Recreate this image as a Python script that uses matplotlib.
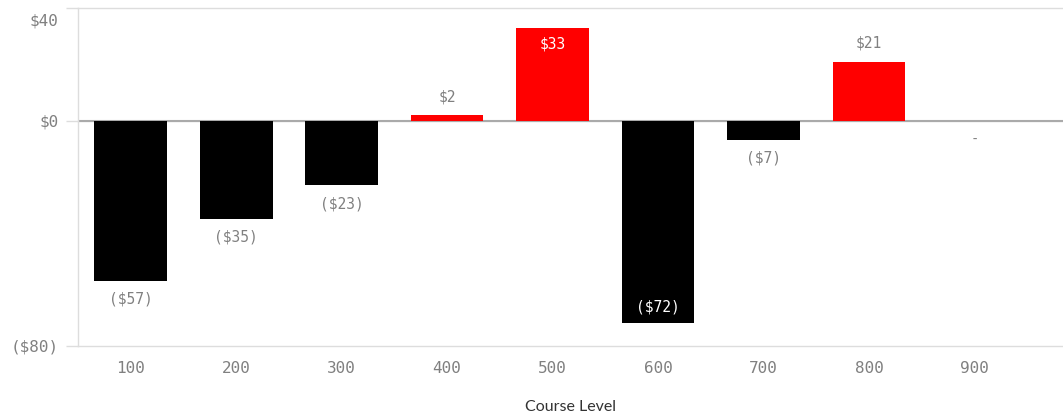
import numpy as np
import matplotlib.pyplot as plt
import matplotlib.transforms as mtransforms
from matplotlib.ticker import FuncFormatter

levels = ["100", "200", "300", "400", "500", "600", "700", "800", "900"]
net = [-57, -35, -23, 2, 33, -72, -7, 21, 0]
# labels that sit inside the bar instead of past its end
inside = [False, False, False, False, True, True, False, False, False]

POS = "#ff0000"
NEG = "#000000"
TXT = "#808080"
MONO = "DejaVu Sans Mono"


def money(v, pos=None):
    if v < 0:
        return "(${:.0f})".format(-v)
    return "${:.0f}".format(v)


fig = plt.figure(figsize=(10.63, 4.16), dpi=100)
ax = fig.add_axes([78 / 1063, 1 - 346 / 416, 1 - 78 / 1063, 338 / 416])

x = np.arange(len(levels))
colors = [POS if v > 0 else NEG for v in net]
ax.bar(x, net, width=0.69, color=colors, zorder=3)

for xi, v, ins in zip(x, net, inside):
    if v == 0:
        ax.annotate("-", (xi, 0), xytext=(0, -14), textcoords="offset points",
                    ha="center", va="center", color=TXT, fontsize=10, family=MONO)
        continue
    sign = 1 if v > 0 else -1
    off = -12 * sign if ins else 13 * sign
    col = "white" if ins else TXT
    ax.annotate(money(v), (xi, v), xytext=(0, off), textcoords="offset points",
                ha="center", va="center", color=col, fontsize=10.5, family=MONO,
                zorder=4)

ax.set_ylim(-80, 40)
ax.set_xlim(-0.5, 8.84)
ax.set_yticks([-80, 0, 40])
ax.yaxis.set_major_formatter(FuncFormatter(money))
ax.set_xticks(x)
ax.set_xticklabels(levels)

ax.grid(axis="y", color="#dddddd", linewidth=1, zorder=0)
for gl in ax.get_ygridlines():
    gl.set_clip_on(False)
ax.axhline(0, color="#aaaaaa", linewidth=1.5, zorder=2)
for s in ["top", "right", "bottom"]:
    ax.spines[s].set_visible(False)
ax.spines["left"].set_color("#dddddd")
ax.spines["left"].set_linewidth(1)

ax.tick_params(axis="y", length=9, color="#dddddd", width=1, pad=5,
               labelcolor=TXT, labelsize=11.5)
ax.tick_params(axis="x", length=0, pad=11, labelcolor=TXT, labelsize=11.5)
for lab in ax.get_xticklabels() + ax.get_yticklabels():
    lab.set_family(MONO)

# keep the top tick label inside the figure
top = ax.get_yticklabels()[-1]
top.set_transform(top.get_transform() +
                  mtransforms.ScaledTranslation(0, -8.5 / 72, fig.dpi_scale_trans))

ax.set_xlabel("Course Level", family="Lato", fontsize=11.5, color="#333333",
              labelpad=17)

fig.savefig("out.png", dpi=100)
